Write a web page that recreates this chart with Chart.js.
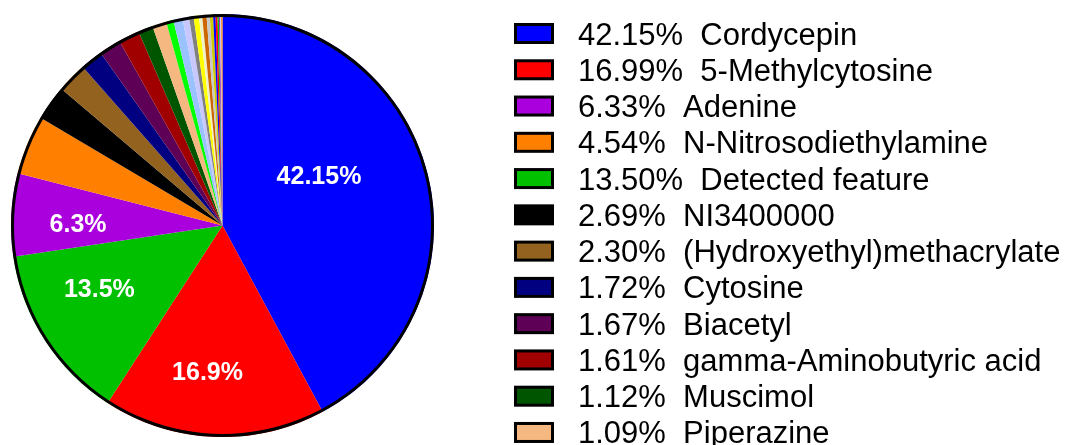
<!DOCTYPE html>
<html>
<head>
<meta charset="utf-8">
<title>Compound composition</title>
<script src="https://cdn.jsdelivr.net/npm/chart.js@4.4.1/dist/chart.umd.min.js"></script>
<style>
  html, body { margin: 0; padding: 0; background: #fff; overflow: hidden; }
  #wrap { width: 1070px; height: 445px; }
</style>
</head>
<body>
<div id="wrap"><canvas id="pieChart" width="1070" height="445"></canvas></div>
<script>
// slices in drawing order (clockwise from 12 o'clock)
const compounds = ['Cordycepin', '5-Methylcytosine', 'Detected feature', 'Adenine',
    'N-Nitrosodiethylamine', 'NI3400000', '(Hydroxyethyl)methacrylate', 'Cytosine',
    'Biacetyl', 'gamma-Aminobutyric acid', 'Muscimol', 'Piperazine'];
const percents = [42.15, 16.99, 13.50, 6.33, 4.54, 2.69, 2.30, 1.72, 1.67, 1.61, 1.12, 1.09];
const minorPercents = [0.55, 0.70, 0.50, 0.35, 0.40, 0.25, 0.33, 0.25, 0.25, 0.18, 0.15, 0.10, 0.10, 0.08, 0.10];

const sliceColors = ['#0000FF', '#FF0000', '#00C000', '#AA00DD', '#FF8000', '#000000',
    '#94621F', '#000080', '#5E0055', '#A00000', '#005500', '#F4B880'];
const minorColors = ['#00FF00', '#99C2FF', '#C8C8FF', '#808080', '#FFFF00', '#F0F0C8',
    '#CC6600', '#C8C8C8', '#CCCC00', '#0000FF', '#FF0000', '#00C000', '#9933CC', '#C8C8FF', '#FF8000'];

// legend lists the named compounds in this order
const legendOrder = [0, 1, 3, 4, 2, 5, 6, 7, 8, 9, 10, 11];
// value labels printed inside the four largest slices
const sliceLabels = ['42.15%', '16.9%', '13.5%', '6.3%'];

const allValues = percents.concat(minorPercents);
const allColors = sliceColors.concat(minorColors);
const allNames = compounds.concat(minorPercents.map((v, i) => 'Minor feature ' + (i + 1)));

const FONT = 'Arial, "Liberation Sans", Helvetica, sans-serif';

// black rim round the outside of the pie only
const outerRing = {
    id: 'outerRing',
    afterDatasetsDraw(chart) {
        const arc = chart.getDatasetMeta(0).data[0];
        const ctx = chart.ctx;
        ctx.save();
        ctx.beginPath();
        ctx.arc(arc.x, arc.y, arc.outerRadius - 1.5, 0, Math.PI * 2);
        ctx.lineWidth = 3;
        ctx.strokeStyle = '#000';
        ctx.stroke();
        ctx.restore();
    }
};

const sliceText = {
    id: 'sliceText',
    afterDatasetsDraw(chart, args, opts) {
        const meta = chart.getDatasetMeta(0);
        const ctx = chart.ctx;
        ctx.save();
        ctx.font = 'bold 25px ' + FONT;
        ctx.fillStyle = '#fff';
        ctx.textAlign = 'center';
        ctx.textBaseline = 'middle';
        sliceLabels.forEach((txt, i) => {
            const arc = meta.data[i];
            const p = opts.place[i];
            const a = arc.startAngle + p.t * (arc.endAngle - arc.startAngle);
            const r = arc.outerRadius * p.r;
            ctx.fillText(txt, arc.x + Math.cos(a) * r, arc.y + Math.sin(a) * r);
        });
        ctx.restore();
    }
};

const sideLegend = {
    id: 'sideLegend',
    afterDraw(chart, args, opts) {
        const ctx = chart.ctx;
        ctx.save();
        ctx.font = '31px ' + FONT;
        ctx.textAlign = 'left';
        ctx.textBaseline = 'alphabetic';
        legendOrder.forEach((idx, row) => {
            const cy = opts.top + row * opts.rowGap;
            ctx.fillStyle = sliceColors[idx];
            ctx.fillRect(opts.boxX, cy - 9, 37, 18);
            ctx.lineWidth = 3;
            ctx.strokeStyle = '#000';
            ctx.strokeRect(opts.boxX, cy - 9, 37, 18);
            ctx.fillStyle = '#000';
            ctx.fillText(percents[idx].toFixed(2) + '%  ' + compounds[idx], opts.textX, cy + 11);
        });
        ctx.restore();
    }
};

new Chart(document.getElementById('pieChart'), {
    type: 'pie',
    data: {
        labels: allNames,
        datasets: [{
            data: allValues,
            backgroundColor: allColors,
            borderWidth: 0,
            hoverOffset: 0
        }]
    },
    options: {
        responsive: false,
        animation: false,
        events: [],
        layout: { padding: { left: 11, top: 14, right: 636, bottom: 8 } },
        plugins: {
            legend: { display: false },
            tooltip: { enabled: false },
            sliceText: {
                place: [{ t: 0.418, r: 0.51 }, { t: 0.557, r: 0.70 }, { t: 0.607, r: 0.657 }, { t: 0.373, r: 0.683 }]
            },
            sideLegend: { top: 33.5, rowGap: 36.27, boxX: 515.5, textX: 578 }
        }
    },
    plugins: [outerRing, sliceText, sideLegend]
});
</script>
</body>
</html>
